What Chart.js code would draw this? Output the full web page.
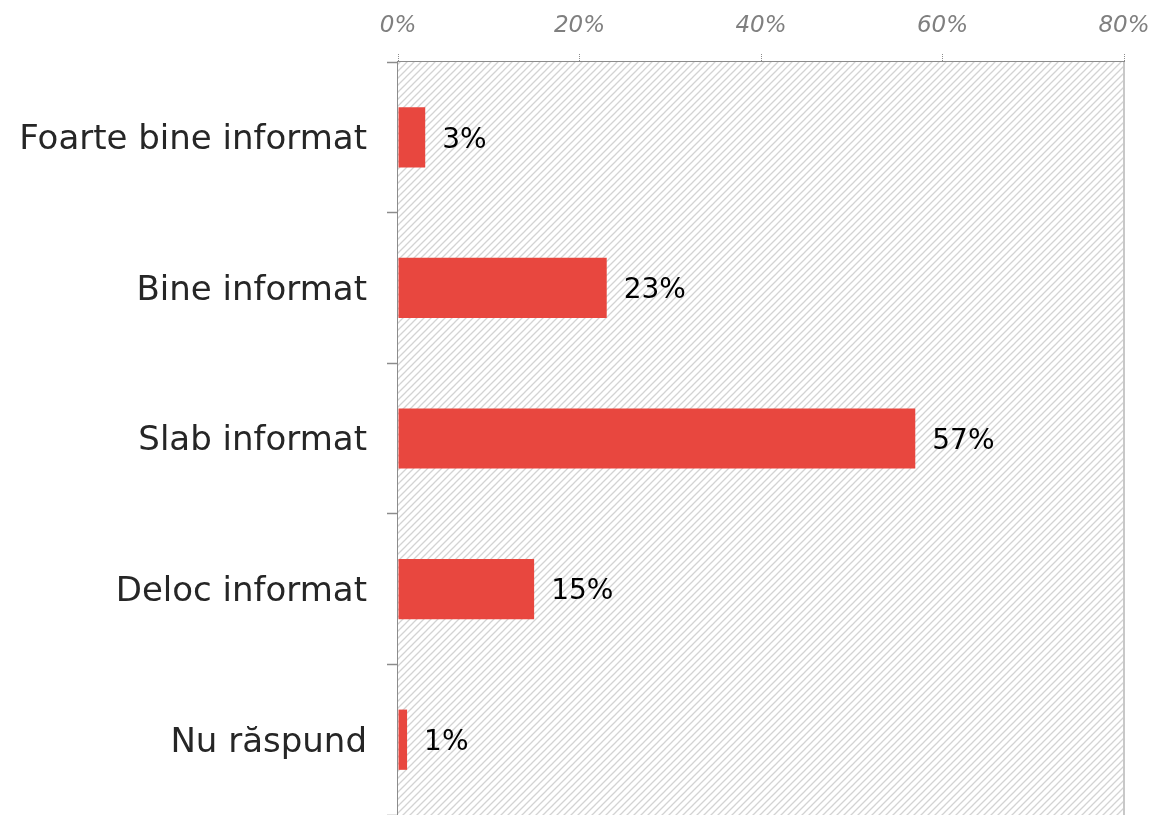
<!DOCTYPE html>
<html>
<head>
<meta charset="utf-8">
<script src="https://cdn.jsdelivr.net/npm/chart.js@4.4.1/dist/chart.umd.min.js"></script>
<style>
	html, body { margin: 0; padding: 0; background: #fff; overflow: hidden; }
	#wrap { position: relative; width: 1155px; height: 815px; }
</style>
</head>
<body>
<div id="wrap"><canvas id="cbar"></canvas></div>
<script>
	var categories	=	["Foarte bine informat", "Bine informat", "Slab informat", "Deloc informat", "Nu răspund"];
	var values		=	[3, 23, 57, 15, 1];
	var valueLabels	=	["3%", "23%", "57%", "15%", "1%"];
	var xTicks		=	[0, 20, 40, 60, 80];

	var fontFam	=	"'DejaVu Sans', sans-serif";

	function makeHatch(){
		var c = document.createElement("canvas");
		c.width = 7; c.height = 7;
		var g = c.getContext("2d");
		g.fillStyle = "#ffffff";
		g.fillRect(0, 0, 7, 7);
		g.strokeStyle = "#d3d3d3";
		g.lineWidth = 1.3;
		g.beginPath();
		g.moveTo(-1, 8); g.lineTo(8, -1);
		g.moveTo(-4, 4); g.lineTo(4, -4);
		g.moveTo(3, 11); g.lineTo(11, 3);
		g.stroke();
		return g.createPattern(c, "repeat");
	}

	var hatchPlugin = {
		id: "hatch",
		beforeDatasetsDraw: function(chart){
			var a = chart.chartArea, ctx = chart.ctx;
			ctx.save();
			ctx.fillStyle = makeHatch();
			ctx.fillRect(a.left, a.top, a.right - a.left, a.bottom - a.top);
			ctx.strokeStyle = "#c8c8c8";
			ctx.lineWidth = 2;
			ctx.beginPath();
			ctx.moveTo(a.right, a.top);
			ctx.lineTo(a.right, a.bottom);
			ctx.stroke();
			ctx.restore();
		}
	};

	var labelPlugin = {
		id: "valLabels",
		afterDatasetsDraw: function(chart){
			var ctx = chart.ctx;
			var meta = chart.getDatasetMeta(0);
			ctx.save();
			ctx.font = "28px " + fontFam;
			ctx.fillStyle = "#000";
			ctx.textBaseline = "middle";
			ctx.textAlign = "left";
			meta.data.forEach(function(bar, i){
				ctx.fillText(valueLabels[i], bar.x + 17, bar.y + 3);
			});
			ctx.restore();
		}
	};

	var cbar = document.getElementById("cbar").getContext("2d");
	var barChart = new Chart(cbar, {
		type: "bar",
		data: {
			labels: categories,
			datasets: [{
				data: values,
				backgroundColor: "#e8473f",
				barPercentage: 0.4,
				categoryPercentage: 1.0
			}]
		},
		options: {
			indexAxis: "y",
			responsive: true,
			maintainAspectRatio: false,
			animation: false,
			layout: { padding: { left: 0, right: 31, top: 0, bottom: -3 } },
			plugins: { legend: { display: false }, tooltip: { enabled: false } },
			scales: {
				x: {
					position: "top",
					min: 0, max: 80,
					afterBuildTicks: function(s){ s.ticks = xTicks.map(function(v){ return { value: v }; }); },
					afterFit: function(s){
						s.height = 62;
						s.paddingLeft = 0; s.paddingRight = 0;
					},
					ticks: {
						callback: function(v){ return v + "%"; },
						font: { family: fontFam, size: 23, style: "italic" },
						color: "#7f7f7f",
						padding: 14,
						maxRotation: 0
					},
					grid: {
						drawOnChartArea: false,
						drawTicks: true,
						tickLength: 8,
						tickColor: "#8c8c8c",
						tickBorderDash: [1, 1],
						tickWidth: 1
					},
					border: { color: "#8c8c8c", width: 2, dash: [2, 1] }
				},
				y: {
					afterFit: function(s){
						s.width = 398;
						s.paddingTop = 0; s.paddingBottom = 0;
					},
					ticks: {
						font: { family: fontFam, size: 34 },
						color: "#262626",
						padding: 20,
						labelOffset: 3
					},
					grid: {
						offset: true,
						drawOnChartArea: false,
						tickLength: 11,
						tickColor: "#8c8c8c",
						tickWidth: 1.5
					},
					border: { color: "#8c8c8c", width: 2 }
				}
			}
		},
		plugins: [hatchPlugin, labelPlugin]
	});
</script>
</body>
</html>
